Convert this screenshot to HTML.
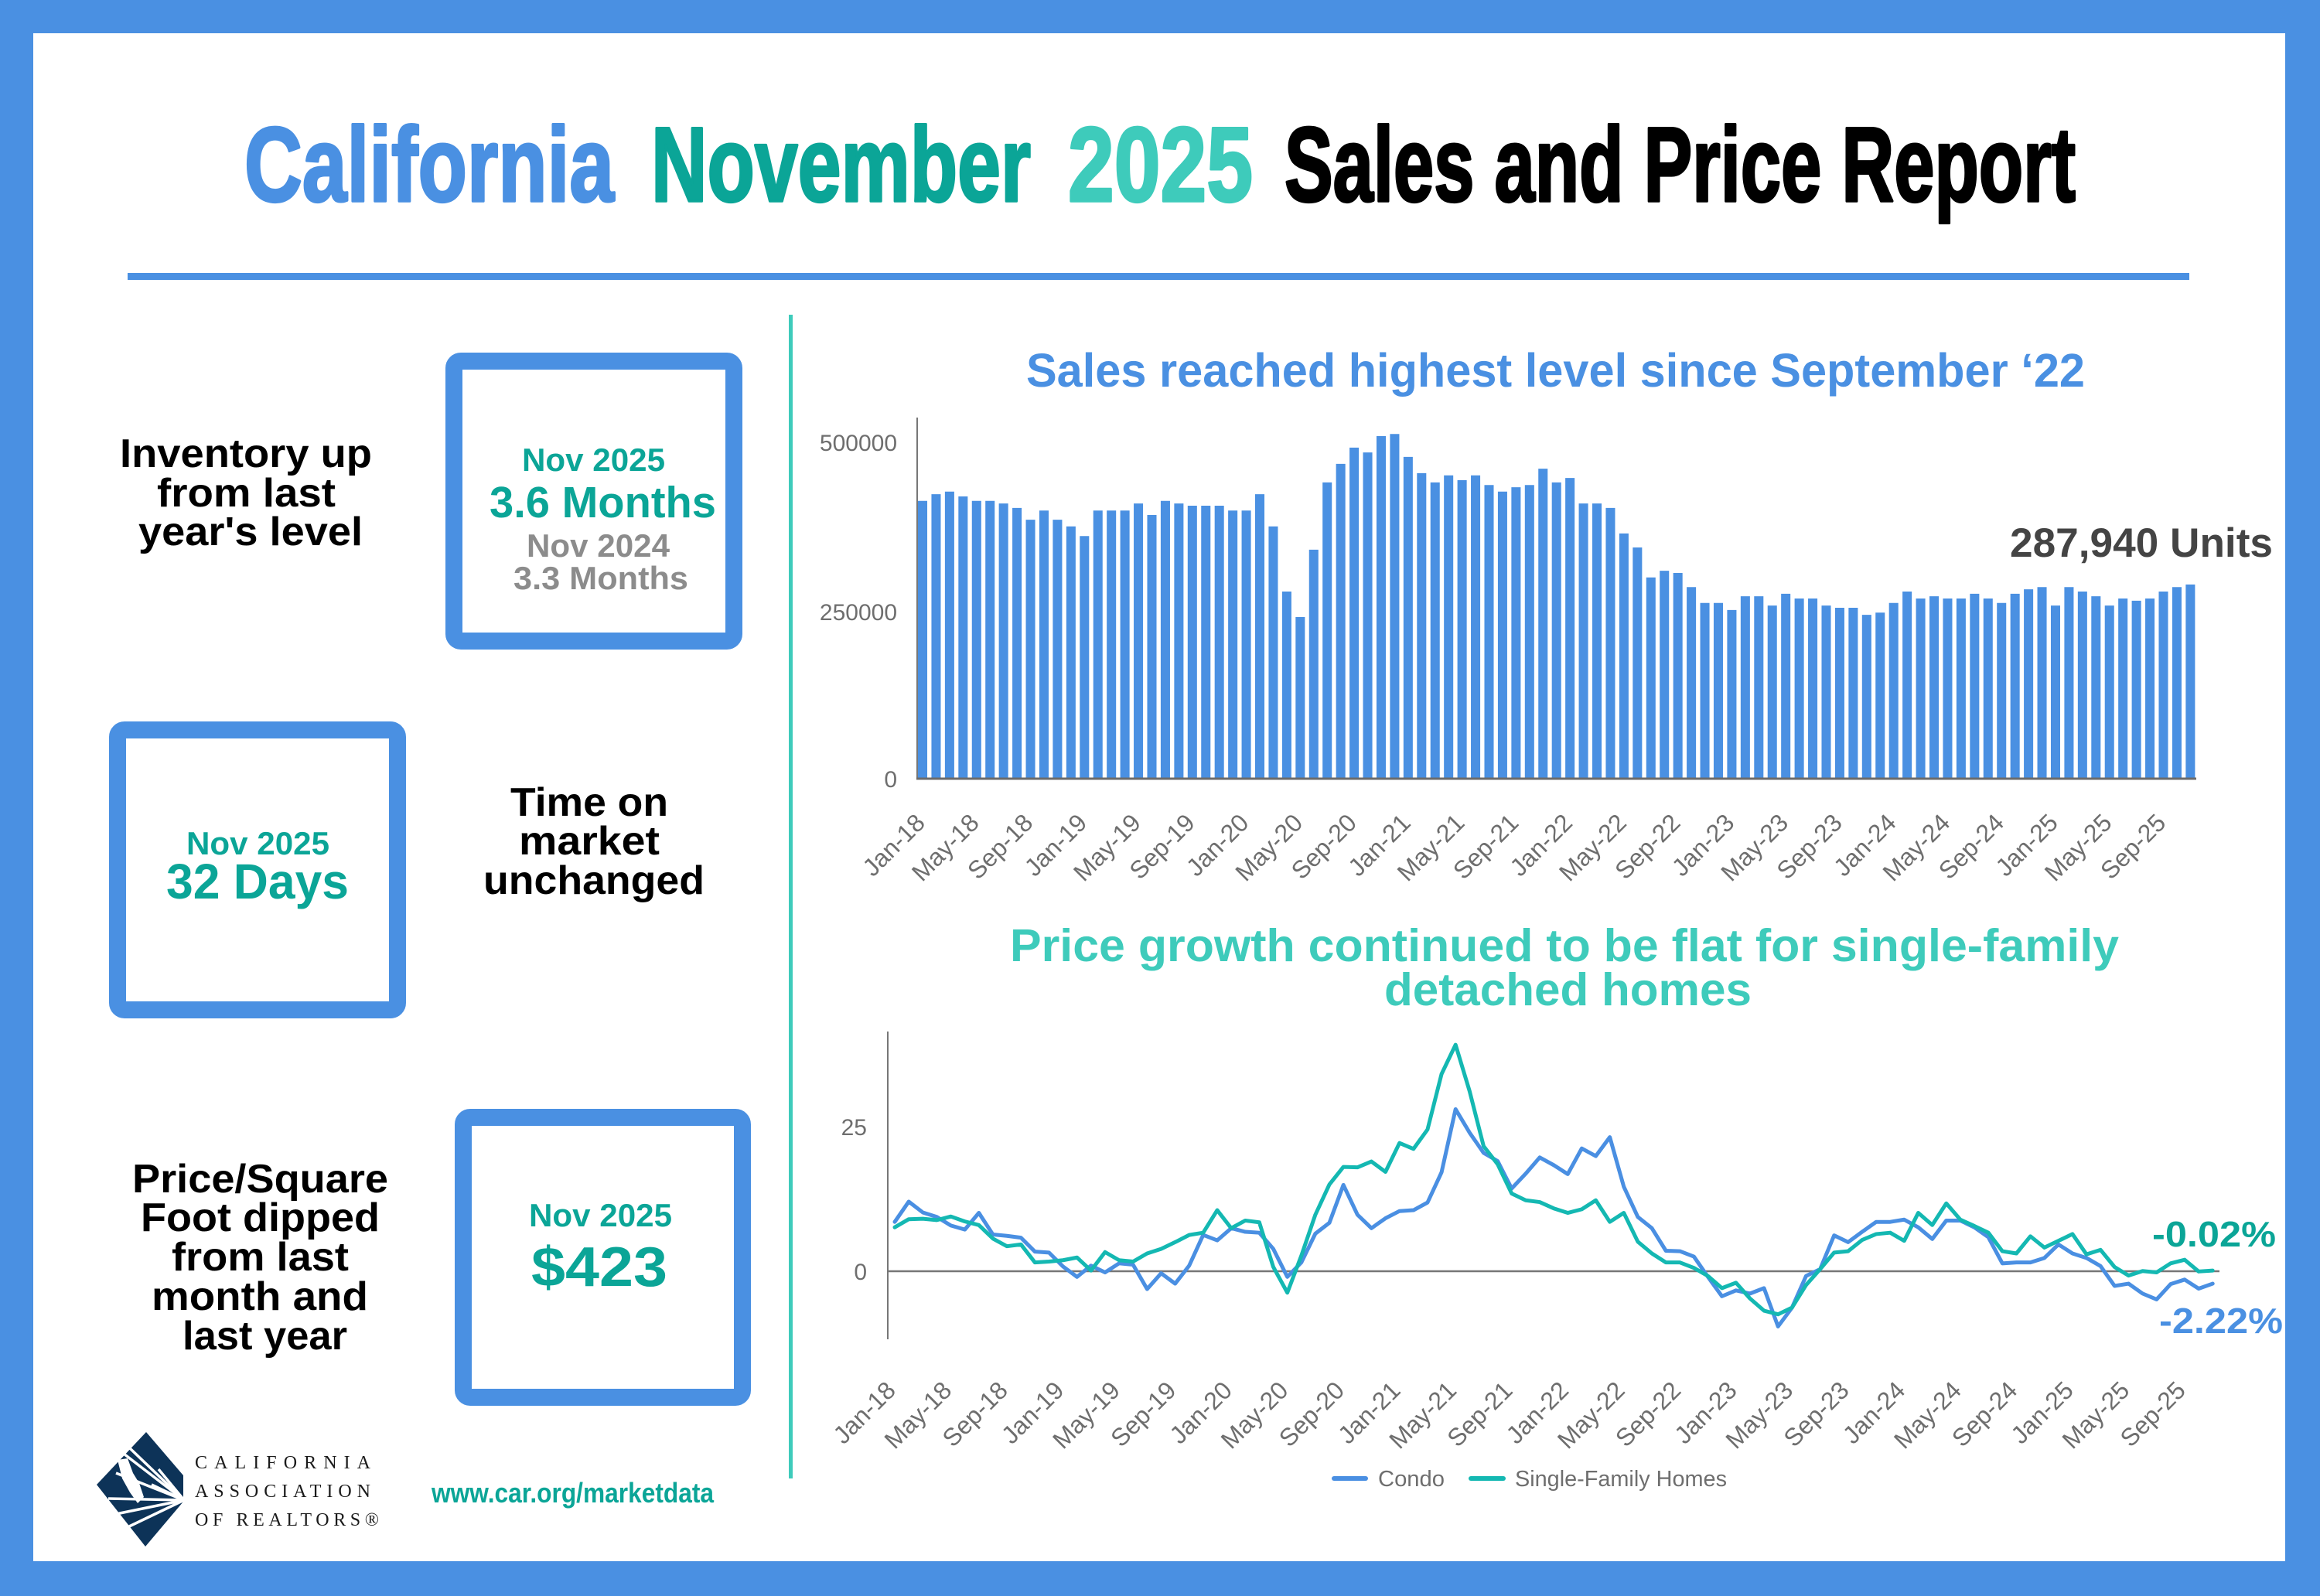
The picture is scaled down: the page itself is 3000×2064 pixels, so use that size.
<!DOCTYPE html>
<html><head><meta charset="utf-8"><style>
html,body{margin:0;padding:0;background:#4a90e2;}
svg{display:block;}
text{font-family:"Liberation Sans",sans-serif;}
</style></head><body>
<svg width="3000" height="2064" viewBox="0 0 3000 2064" xmlns="http://www.w3.org/2000/svg">
<rect x="0" y="0" width="3000" height="2064" fill="#4a90e2"/>
<rect x="43" y="43" width="2912" height="1976" fill="#ffffff"/>

<!-- Title -->
<g font-weight="bold" font-size="137" stroke-width="3.5" stroke-linejoin="round">
<text x="316" y="260" textLength="478" lengthAdjust="spacingAndGlyphs" fill="#4a90e2" stroke="#4a90e2">California</text>
<text x="842" y="260" textLength="491" lengthAdjust="spacingAndGlyphs" fill="#0ba597" stroke="#0ba597">November</text>
<text x="1381" y="260" textLength="239" lengthAdjust="spacingAndGlyphs" fill="#3ecbbb" stroke="#3ecbbb">2025</text>
<text x="1661" y="260" textLength="1023" lengthAdjust="spacingAndGlyphs" fill="#000" stroke="#000">Sales and Price Report</text>
</g>
<rect x="165" y="353" width="2666" height="9" fill="#4a90e2"/>
<rect x="1020" y="407" width="5" height="1505" fill="#3ecbbb"/>

<!-- Left panel -->
<g font-weight="bold" font-size="52" fill="#000">
<text x="155" y="604" textLength="326" lengthAdjust="spacingAndGlyphs">Inventory up</text>
<text x="203" y="655" textLength="231" lengthAdjust="spacingAndGlyphs">from last</text>
<text x="179" y="705" textLength="290" lengthAdjust="spacingAndGlyphs">year's level</text>
<text x="660" y="1055" textLength="204" lengthAdjust="spacingAndGlyphs">Time on</text>
<text x="671" y="1105" textLength="182" lengthAdjust="spacingAndGlyphs">market</text>
<text x="625" y="1156" textLength="286" lengthAdjust="spacingAndGlyphs">unchanged</text>
<text x="171" y="1542" textLength="331" lengthAdjust="spacingAndGlyphs">Price/Square</text>
<text x="182" y="1592" textLength="309" lengthAdjust="spacingAndGlyphs">Foot dipped</text>
<text x="222" y="1643" textLength="229" lengthAdjust="spacingAndGlyphs">from last</text>
<text x="196" y="1694" textLength="280" lengthAdjust="spacingAndGlyphs">month and</text>
<text x="236" y="1745" textLength="213" lengthAdjust="spacingAndGlyphs">last year</text>
</g>

<g fill="none" stroke="#4a90e2" stroke-width="22">
<rect x="587" y="467" width="362" height="362" rx="9"/>
<rect x="152" y="944" width="362" height="362" rx="9"/>
<rect x="599" y="1445" width="361" height="362" rx="9"/>
</g>

<g font-weight="bold">
<text x="675" y="609" font-size="42" textLength="185" lengthAdjust="spacingAndGlyphs" fill="#0ba597">Nov 2025</text>
<text x="633" y="669" font-size="57" textLength="293" lengthAdjust="spacingAndGlyphs" fill="#0ba597">3.6 Months</text>
<text x="681" y="720" font-size="42" textLength="185" lengthAdjust="spacingAndGlyphs" fill="#8c8c8c">Nov 2024</text>
<text x="664" y="762" font-size="42" textLength="226" lengthAdjust="spacingAndGlyphs" fill="#8c8c8c">3.3 Months</text>
<text x="241" y="1105" font-size="42" textLength="185" lengthAdjust="spacingAndGlyphs" fill="#0ba597">Nov 2025</text>
<text x="215" y="1162" font-size="64" textLength="236" lengthAdjust="spacingAndGlyphs" fill="#0ba597">32 Days</text>
<text x="684" y="1586" font-size="42" textLength="185" lengthAdjust="spacingAndGlyphs" fill="#0ba597">Nov 2025</text>
<text x="687" y="1663" font-size="72" textLength="176" lengthAdjust="spacingAndGlyphs" fill="#0ba597">$423</text>
<text x="558" y="1943" font-size="36" textLength="365" lengthAdjust="spacingAndGlyphs" fill="#0ba597">www.car.org/marketdata</text>
</g>

<!-- Logo -->
<polygon points="189,1852 237,1908 237,1942 188,2000 125,1920" fill="#0d3358"/>
<g stroke="#ffffff" stroke-width="3.5" fill="none">
<line x1="238" y1="1940" x2="160" y2="1880"/>
<line x1="238" y1="1940" x2="168" y2="1873"/>
<line x1="238" y1="1940" x2="150" y2="1905"/>
<line x1="238" y1="1940" x2="140" y2="1938"/>
<line x1="238" y1="1940" x2="150" y2="1958"/>
<line x1="238" y1="1940" x2="165" y2="1975"/>
<line x1="238" y1="1940" x2="196" y2="1920"/>
<line x1="238" y1="1940" x2="205" y2="1900"/>
</g>
<path d="M152,1888 L165,1886 L172,1905 L180,1918 L186,1936 L178,1944 L168,1930 L158,1912 Z" fill="#ffffff"/>
<g font-size="24" fill="#1a1a1a">
<text x="252" y="1899" textLength="227" lengthAdjust="spacing" style="font-family:'Liberation Serif',serif">CALIFORNIA</text>
<text x="252" y="1936" textLength="227" lengthAdjust="spacing" style="font-family:'Liberation Serif',serif">ASSOCIATION</text>
<text x="252" y="1973" textLength="238" lengthAdjust="spacing" style="font-family:'Liberation Serif',serif">OF REALTORS®</text>
</g>

<!-- Bar chart -->
<text x="1327" y="500" font-size="61" font-weight="bold" fill="#4a90e2" textLength="1369" lengthAdjust="spacingAndGlyphs">Sales reached highest level since September ‘22</text>
<g font-size="30" fill="#6e6e6e" text-anchor="end">
<text x="1160" y="583">500000</text>
<text x="1160" y="802">250000</text>
<text x="1160" y="1018">0</text>
</g>
<g transform="translate(1187,400) scale(17.44,0.47831)">
<path fill="none" stroke="#4a90e2" stroke-width="0.69" d="M0.345,1268V518M1.345,1268V500M2.345,1268V493M3.345,1268V506M4.345,1268V518M5.345,1268V518M6.345,1268V525M7.345,1268V537M8.345,1268V569M9.345,1268V544M10.345,1268V569M11.345,1268V587M12.345,1268V613M13.345,1268V544M14.345,1268V544M15.345,1268V544M16.345,1268V525M17.345,1268V556M18.345,1268V518M19.345,1268V525M20.345,1268V531M21.345,1268V531M22.345,1268V531M23.345,1268V544M24.345,1268V544M25.345,1268V500M26.345,1268V587M27.345,1268V763M28.345,1268V832M29.345,1268V650M30.345,1268V468M31.345,1268V418M32.345,1268V374M33.345,1268V387M34.345,1268V343M35.345,1268V337M36.345,1268V399M37.345,1268V443M38.345,1268V468M39.345,1268V449M40.345,1268V462M41.345,1268V449M42.345,1268V475M43.345,1268V493M44.345,1268V481M45.345,1268V475M46.345,1268V431M47.345,1268V468M48.345,1268V456M49.345,1268V525M50.345,1268V525M51.345,1268V537M52.345,1268V606M53.345,1268V644M54.345,1268V725M55.345,1268V707M56.345,1268V713M57.345,1268V751M58.345,1268V794M59.345,1268V794M60.345,1268V813M61.345,1268V776M62.345,1268V776M63.345,1268V801M64.345,1268V769M65.345,1268V782M66.345,1268V782M67.345,1268V801M68.345,1268V807M69.345,1268V807M70.345,1268V826M71.345,1268V820M72.345,1268V794M73.345,1268V763M74.345,1268V782M75.345,1268V776M76.345,1268V782M77.345,1268V782M78.345,1268V769M79.345,1268V782M80.345,1268V794M81.345,1268V769M82.345,1268V757M83.345,1268V751M84.345,1268V801M85.345,1268V751M86.345,1268V763M87.345,1268V776M88.345,1268V801M89.345,1268V782M90.345,1268V788M91.345,1268V782M92.345,1268V763M93.345,1268V751M94.345,1268V744"/>
</g>
<line x1="1186" y1="540" x2="1186" y2="1007" stroke="#777" stroke-width="2"/>
<line x1="1185" y1="1007" x2="2840" y2="1007" stroke="#6b6b6b" stroke-width="3"/>
<text x="2599" y="720" font-size="53" font-weight="bold" fill="#444" textLength="340" lengthAdjust="spacingAndGlyphs">287,940 Units</text>

<g font-size="32" fill="#6e6e6e" text-anchor="end">
<text transform="translate(1198,1066) rotate(-45)">Jan-18</text>
<text transform="translate(1267.8,1066) rotate(-45)">May-18</text>
<text transform="translate(1337.5,1066) rotate(-45)">Sep-18</text>
<text transform="translate(1407.3,1066) rotate(-45)">Jan-19</text>
<text transform="translate(1477,1066) rotate(-45)">May-19</text>
<text transform="translate(1546.8,1066) rotate(-45)">Sep-19</text>
<text transform="translate(1616.6,1066) rotate(-45)">Jan-20</text>
<text transform="translate(1686.3,1066) rotate(-45)">May-20</text>
<text transform="translate(1756.1,1066) rotate(-45)">Sep-20</text>
<text transform="translate(1825.8,1066) rotate(-45)">Jan-21</text>
<text transform="translate(1895.6,1066) rotate(-45)">May-21</text>
<text transform="translate(1965.4,1066) rotate(-45)">Sep-21</text>
<text transform="translate(2035.1,1066) rotate(-45)">Jan-22</text>
<text transform="translate(2104.9,1066) rotate(-45)">May-22</text>
<text transform="translate(2174.6,1066) rotate(-45)">Sep-22</text>
<text transform="translate(2244.4,1066) rotate(-45)">Jan-23</text>
<text transform="translate(2314.2,1066) rotate(-45)">May-23</text>
<text transform="translate(2383.9,1066) rotate(-45)">Sep-23</text>
<text transform="translate(2453.7,1066) rotate(-45)">Jan-24</text>
<text transform="translate(2523.4,1066) rotate(-45)">May-24</text>
<text transform="translate(2593.2,1066) rotate(-45)">Sep-24</text>
<text transform="translate(2663,1066) rotate(-45)">Jan-25</text>
<text transform="translate(2732.7,1066) rotate(-45)">May-25</text>
<text transform="translate(2802.5,1066) rotate(-45)">Sep-25</text>
</g>

<!-- Line chart -->
<g font-size="59" font-weight="bold" fill="#3ecbbb">
<text x="1306" y="1243" textLength="1434" lengthAdjust="spacingAndGlyphs">Price growth continued to be flat for single-family</text>
<text x="1790" y="1300" textLength="475" lengthAdjust="spacingAndGlyphs">detached homes</text>
</g>
<g font-size="30" fill="#6e6e6e" text-anchor="end">
<text x="1121" y="1468">25</text>
<text x="1121" y="1655">0</text>
</g>
<line x1="1148" y1="1334" x2="1148" y2="1732" stroke="#777" stroke-width="2"/>
<line x1="1148" y1="1644" x2="2870" y2="1644" stroke="#777" stroke-width="2.5"/>

<g transform="translate(1157,1150) scale(18.13,0.58292)" fill="none" stroke-linejoin="round" stroke-linecap="round">
<polyline vector-effect="non-scaling-stroke" stroke="#4a8fe2" stroke-width="5" points="0,738 1,693 2,717 3,727 4,746 5,755 6,718 7,766 8,769 9,773 10,804 11,806 12,837 13,860 14,835 15,850 16,830 17,833 18,887 19,852 20,875 21,835 22,767 23,779 24,752 25,760 26,762 27,798 28,860 29,828 30,764 31,740 32,656 33,722 34,752 35,730 36,714 37,712 38,695 39,628 40,488 41,540 42,585 43,603 44,664 45,631 46,595 47,612 48,632 49,575 50,592 51,550 52,660 53,727 54,752 55,802 56,803 57,815 58,860 59,903 60,890 61,897 62,885 63,970 64,928 65,858 66,843 67,768 68,783 69,760 70,738 71,738 72,733 73,750 74,776 75,735 76,735 77,750 78,772 79,830 80,828 81,828 82,818 83,788 84,808 85,818 86,836 87,880 88,875 89,897 90,910 91,876 92,866 93,886 94,875"/>
<polyline vector-effect="non-scaling-stroke" stroke="#14b8b2" stroke-width="5" points="0,750 1,732 2,731 3,734 4,726 5,737 6,745 7,775 8,792 9,788 10,828 11,826 12,823 13,817 14,846 15,805 16,823 17,826 18,808 19,798 20,783 21,767 22,762 23,712 24,752 25,735 26,739 27,838 28,895 29,813 30,722 31,655 32,616 33,617 34,604 35,627 36,563 37,576 38,533 39,410 40,345 41,448 42,570 43,610 44,675 45,690 46,694 47,708 48,718 49,710 50,690 51,738 52,718 53,782 54,808 55,828 56,828 57,840 58,858 59,885 60,873 61,908 62,935 63,943 64,928 65,878 66,843 67,806 68,803 69,778 70,765 71,762 72,780 73,718 74,745 75,697 76,733 77,747 78,762 79,803 80,808 81,770 82,795 83,780 84,765 85,810 86,800 87,838 88,857 89,847 90,850 91,830 92,822 93,848 94,846"/>
</g>
<text x="2783" y="1612" font-size="46" font-weight="bold" fill="#0ba597" textLength="160" lengthAdjust="spacingAndGlyphs">-0.02%</text>
<text x="2792" y="1724" font-size="46" font-weight="bold" fill="#4a90e2" textLength="160" lengthAdjust="spacingAndGlyphs">-2.22%</text>

<g font-size="32" fill="#6e6e6e" text-anchor="end">
<text transform="translate(1160,1800) rotate(-45)">Jan-18</text>
<text transform="translate(1232.5,1800) rotate(-45)">May-18</text>
<text transform="translate(1305,1800) rotate(-45)">Sep-18</text>
<text transform="translate(1377.6,1800) rotate(-45)">Jan-19</text>
<text transform="translate(1450.1,1800) rotate(-45)">May-19</text>
<text transform="translate(1522.6,1800) rotate(-45)">Sep-19</text>
<text transform="translate(1595.1,1800) rotate(-45)">Jan-20</text>
<text transform="translate(1667.6,1800) rotate(-45)">May-20</text>
<text transform="translate(1740.2,1800) rotate(-45)">Sep-20</text>
<text transform="translate(1812.7,1800) rotate(-45)">Jan-21</text>
<text transform="translate(1885.2,1800) rotate(-45)">May-21</text>
<text transform="translate(1957.7,1800) rotate(-45)">Sep-21</text>
<text transform="translate(2030.2,1800) rotate(-45)">Jan-22</text>
<text transform="translate(2102.8,1800) rotate(-45)">May-22</text>
<text transform="translate(2175.3,1800) rotate(-45)">Sep-22</text>
<text transform="translate(2247.8,1800) rotate(-45)">Jan-23</text>
<text transform="translate(2320.3,1800) rotate(-45)">May-23</text>
<text transform="translate(2392.8,1800) rotate(-45)">Sep-23</text>
<text transform="translate(2465.4,1800) rotate(-45)">Jan-24</text>
<text transform="translate(2537.9,1800) rotate(-45)">May-24</text>
<text transform="translate(2610.4,1800) rotate(-45)">Sep-24</text>
<text transform="translate(2682.9,1800) rotate(-45)">Jan-25</text>
<text transform="translate(2755.4,1800) rotate(-45)">May-25</text>
<text transform="translate(2828,1800) rotate(-45)">Sep-25</text>
</g>

<!-- Legend -->
<line x1="1725" y1="1912" x2="1766" y2="1912" stroke="#4a8fe2" stroke-width="6" stroke-linecap="round"/>
<text x="1782" y="1922" font-size="29" fill="#6e6e6e" textLength="86" lengthAdjust="spacingAndGlyphs">Condo</text>
<line x1="1902" y1="1912" x2="1944" y2="1912" stroke="#14b8b2" stroke-width="6" stroke-linecap="round"/>
<text x="1959" y="1922" font-size="29" fill="#6e6e6e" textLength="274" lengthAdjust="spacingAndGlyphs">Single-Family Homes</text>
</svg>
</body></html>
